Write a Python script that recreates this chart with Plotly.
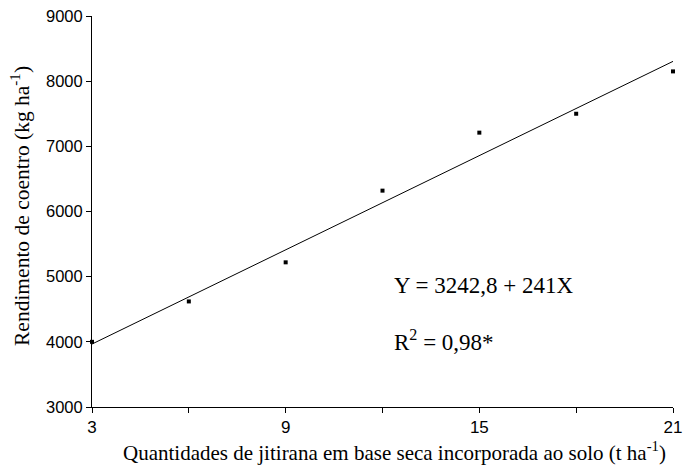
import plotly.graph_objects as go

# Observed yields per amount of incorporated jitirana
doses = [3, 6, 9, 12, 15, 18, 21]
yields = [4000, 4620, 5220, 6320, 7210, 7500, 8150]

# Fitted linear model: Y = 3242.8 + 241X
intercept = 3242.8
slope = 241
fit_x = [3, 21]
fit_y = [intercept + slope * x for x in fit_x]

x_ticks = [3, 6, 9, 12, 15, 18, 21]
x_ticktext = ["3", "", "9", "", "15", "", "21"]
y_ticks = [3000, 4000, 5000, 6000, 7000, 8000, 9000]

x_title = "Quantidades de jitirana em base seca incorporada ao solo (t ha<sup>-1</sup>)"
y_title = "Rendimento de coentro (kg ha<sup>-1</sup>)"

serif = "Liberation Serif, Times New Roman, serif"
sans = "Liberation Sans, Arial, sans-serif"

fig = go.Figure()
fig.add_trace(go.Scatter(x=fit_x, y=fit_y, mode="lines",
                         line=dict(color="black", width=1), showlegend=False))
fig.add_trace(go.Scatter(x=doses, y=yields, mode="markers",
                         marker=dict(symbol="square", size=4, color="black"),
                         showlegend=False, cliponaxis=False))

fig.update_layout(
    width=683, height=466,
    margin=dict(l=92, r=10, t=16, b=59, autoexpand=False),
    paper_bgcolor="white", plot_bgcolor="white",
    font=dict(family=sans, color="black", size=17),
    xaxis=dict(range=[3, 21], tickvals=x_ticks, ticktext=x_ticktext,
               showgrid=False, zeroline=False, showline=True, linecolor="black",
               linewidth=1, ticks="outside", ticklen=5, tickcolor="black",
               tickfont=dict(family=sans, size=17)),
    yaxis=dict(range=[3000, 9000], tickvals=y_ticks,
               showgrid=False, zeroline=False, showline=True, linecolor="black",
               linewidth=1, ticks="outside", ticklen=5, tickcolor="black",
               tickfont=dict(family=sans, size=16.5)),
    annotations=[
        dict(text=x_title, xref="paper", yref="paper", x=0.5215, y=-0.115,
             xanchor="center", yanchor="middle", showarrow=False,
             font=dict(family=serif, size=21, color="black")),
        dict(text=y_title, xref="paper", yref="paper", x=-0.124, y=0.514,
             xanchor="center", yanchor="middle", textangle=-90, showarrow=False,
             font=dict(family=serif, size=21.5, color="black")),
        dict(text="Y = 3242,8 + 241X", xref="paper", yref="paper", x=0.516, y=0.312,
             xanchor="left", yanchor="middle", showarrow=False,
             font=dict(family=serif, size=23, color="black")),
        dict(text="R<sup>2</sup> = 0,98*", xref="paper", yref="paper", x=0.516, y=0.171,
             xanchor="left", yanchor="middle", showarrow=False,
             font=dict(family=serif, size=23, color="black")),
    ],
)

fig.write_html("out.html")
